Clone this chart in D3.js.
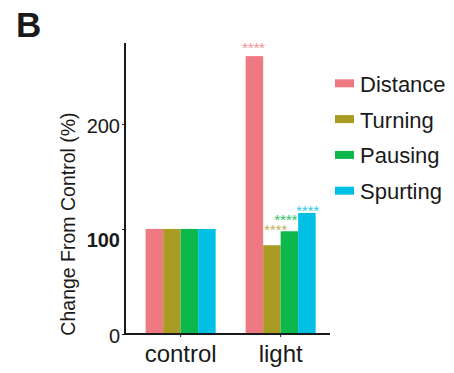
<!DOCTYPE html>
<html>
<head>
<meta charset="utf-8">
<script src="https://cdn.jsdelivr.net/npm/d3@7"></script>
<style>
body { margin: 0; background: #fff; }
text { font-family: "Liberation Sans", Arial, sans-serif; fill: #1a1a1a; }
</style>
</head>
<body>
<div id="chart"></div>
<script>
// data
var groups = ["control", "light"];
var series = ["Distance", "Turning", "Pausing", "Spurting"];
var controlValues = [100, 100, 100, 100];
var lightValues = [264.5, 84.5, 97.8, 115.2];
var lightStars = ["****", "****", "****", "****"];
var yTicks = [0, 100, 200];

var colors = ["#EF7982", "#A99C24", "#0CB74C", "#02BFE4"];
var starColors = ["#F2939A", "#C2B25C", "#2EC163", "#35CBEA"];

var w = 454, h = 373;
var svg = d3.select("#chart").append("svg")
  .attr("width", w).attr("height", h);

var y = d3.scaleLinear().domain([0, 277]).range([334, 43]);
var x0 = d3.scaleBand().domain(groups).range([125, 330])
  .paddingInner(0.3).paddingOuter(0.175).align(0.59);
var x1 = d3.scaleBand().domain(series).range([0, x0.bandwidth()]);
var color = d3.scaleOrdinal().domain(series).range(colors);

var rows = groups.map(function(g, gi) {
  var vals = gi === 0 ? controlValues : lightValues;
  return series.map(function(s, i) { return {group: g, series: s, value: vals[i], i: i}; });
});

// bars
svg.selectAll("g.grp").data(rows).enter().append("g")
  .attr("class", "grp")
  .attr("transform", function(d) { return "translate(" + x0(d[0].group) + ",0)"; })
  .selectAll("rect").data(function(d) { return d; }).enter().append("rect")
  .attr("x", function(d) { return x1(d.series); })
  .attr("width", x1.bandwidth())
  .attr("y", function(d) { return y(d.value); })
  .attr("height", function(d) { return y(0) - y(d.value); })
  .attr("fill", function(d) { return color(d.series); });

// significance stars (per-bar placement tweaks)
var starDx = [-1, 3.6, -3.7, 0.6];
var starDy = [-11.6, -19, -14.6, -6];
svg.selectAll("text.star").data(rows[1]).enter().append("text")
  .attr("class", "star")
  .attr("x", function(d) { return x0("light") + x1(d.series) + x1.bandwidth() / 2 + starDx[d.i]; })
  .attr("y", function(d) { return y(d.value) + starDy[d.i] + 8.8; })
  .attr("text-anchor", "middle")
  .style("font-size", "15.5px")
  .style("letter-spacing", "-0.3px")
  .style("fill", function(d) { return starColors[d.i]; })
  .text(function(d) { return lightStars[d.i]; });

// y axis
var yAxis = svg.append("g").attr("transform", "translate(125,0)")
  .call(d3.axisLeft(y).tickValues(yTicks).tickSize(3).tickPadding(2).tickFormat(d3.format("d")));
yAxis.select(".domain").attr("d", "M0," + y(277) + "V" + y(0)).attr("stroke", "#1a1a1a").attr("stroke-width", 2);
yAxis.selectAll(".tick line").attr("stroke", "#1a1a1a");
yAxis.selectAll(".tick text")
  .style("font-size", "20px")
  .style("font-weight", function(d) { return d === 100 ? "bold" : "normal"; })
  .attr("dy", function(d) { return d === 100 ? "0.9em" : "0.42em"; });

// x axis
var xAxis = svg.append("g").attr("transform", "translate(0,334)")
  .call(d3.axisBottom(x0).tickSize(3).tickPadding(8));
xAxis.select(".domain").attr("d", "M124,0H330").attr("stroke", "#1a1a1a").attr("stroke-width", 2.2);
xAxis.selectAll(".tick line").attr("stroke", "#1a1a1a");
xAxis.selectAll(".tick text").style("font-size", "24px");

// y title
svg.append("text")
  .attr("transform", "translate(74.5,224) rotate(-90)")
  .attr("text-anchor", "middle")
  .style("font-size", "19.5px")
  .text("Change From Control (%)");

// panel letter
svg.append("text").attr("x", 16).attr("y", 37)
  .style("font-size", "35px").style("font-weight", "bold")
  .text("B");

// legend
var legend = svg.selectAll("g.leg").data(series).enter().append("g")
  .attr("class", "leg")
  .attr("transform", function(d, i) { return "translate(335," + (83.3 + i * 35.8) + ")"; });
legend.append("rect").attr("x", 0).attr("y", -4).attr("width", 19).attr("height", 8)
  .attr("fill", function(d) { return color(d); });
legend.append("text").attr("x", 25).attr("y", 8.5)
  .style("font-size", "22px")
  .text(function(d) { return d; });
</script>
</body>
</html>
